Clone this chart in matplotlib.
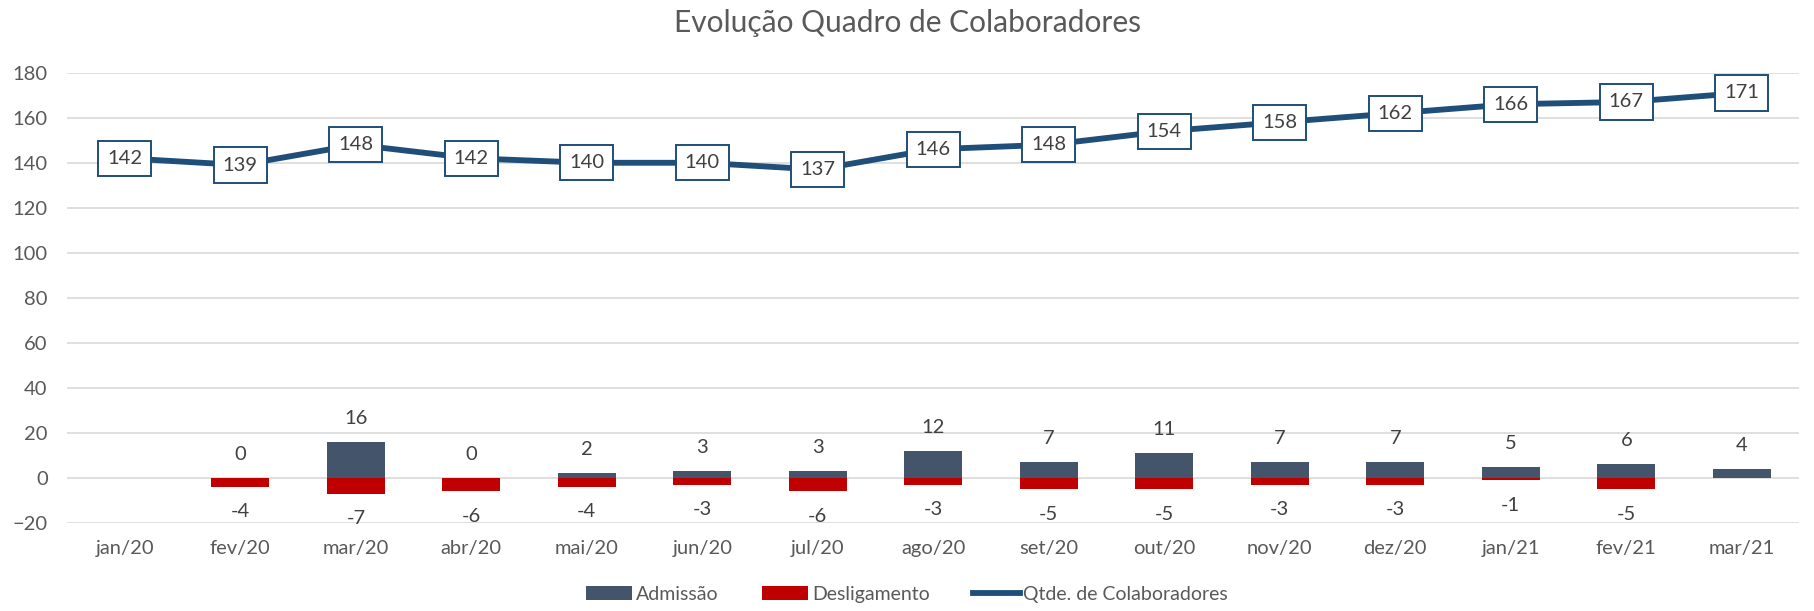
import numpy as np
import matplotlib.pyplot as plt

plt.rcParams['font.family'] = ['Lato', 'DejaVu Sans']

months = ["jan/20", "fev/20", "mar/20", "abr/20", "mai/20", "jun/20", "jul/20", "ago/20",
          "set/20", "out/20", "nov/20", "dez/20", "jan/21", "fev/21", "mar/21"]
admissao = [np.nan, 0, 16, 0, 2, 3, 3, 12, 7, 11, 7, 7, 5, 6, 4]
desligamento = [np.nan, -4, -7, -6, -4, -3, -6, -3, -5, -5, -3, -3, -1, -5, np.nan]
quadro = [142, 139, 148, 142, 140, 140, 137, 146, 148, 154, 158, 162, 166, 167, 171]

c_adm = "#44546A"
c_desl = "#C00000"
c_line = "#1F4E79"
c_text = "#595959"

fig = plt.figure(figsize=(18.14, 6.11), dpi=100)
ax = fig.add_axes([0.037, 0.144, 0.955, 0.737])

x = np.arange(len(months))
b1 = ax.bar(x, admissao, width=0.5, color=c_adm, label="Admissão", zorder=2)
b2 = ax.bar(x, desligamento, width=0.5, color=c_desl, label="Desligamento", zorder=2)
l1, = ax.plot(x, quadro, color=c_line, lw=4.2, label="Qtde. de Colaboradores", zorder=3)

for i in x:
    if not np.isnan(admissao[i]):
        ax.annotate(f"{admissao[i]:g}", (i, admissao[i]), xytext=(0, 17), textcoords="offset points",
                    ha="center", va="center", fontsize=14.5, color="#404040")
    if not np.isnan(desligamento[i]):
        ax.annotate(f"{desligamento[i]:g}", (i, desligamento[i]), xytext=(0, -18), textcoords="offset points",
                    ha="center", va="center", fontsize=14.5, color="#404040")
    ax.text(i, quadro[i], str(quadro[i]), ha="center", va="center", fontsize=14.5, color="#404040", zorder=4,
            bbox=dict(boxstyle="square,pad=0.45", fc="white", ec=c_line, lw=1.4))

ax.set_xlim(-0.5, len(months) - 0.5)
ax.set_ylim(-20, 180)
ax.set_yticks(range(-20, 181, 20))
ax.set_xticks(x)
ax.set_xticklabels(months)
ax.tick_params(length=0, labelsize=14.5, colors=c_text, pad=12)
ax.tick_params(axis="y", pad=14)
ax.grid(axis="y", color="#D9D9D9", lw=1.2, zorder=0)
for s in ax.spines.values():
    s.set_visible(False)

fig.suptitle("Evolução Quadro de Colaboradores", y=0.985, fontsize=21.5, color=c_text)
fig.legend([b1, b2, l1], ["Admissão", "Desligamento", "Qtde. de Colaboradores"],
           loc="lower center", bbox_to_anchor=(0.5, -0.015), ncol=3, frameon=False, fontsize=14,
           labelcolor=c_text, handlelength=2.4, handletextpad=0.2, columnspacing=2.2)

fig.savefig("out.png")
